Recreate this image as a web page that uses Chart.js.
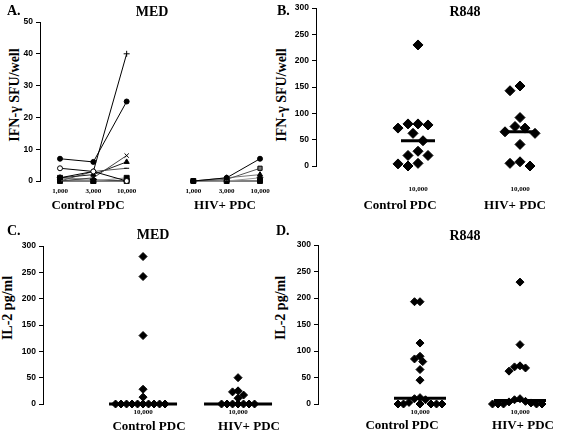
<!DOCTYPE html>
<html lang="en">
<head>
<meta charset="UTF-8">
<title>PDC: IFN-γ en IL-2</title>
<script src="https://cdn.jsdelivr.net/npm/chart.js@4"></script>
<style>
    body { margin: 0; background: #fff; }
    #fig {
        position: relative;
        width: 563px;
        height: 431px;
        overflow: hidden;
        font-family: 'Liberation Serif', 'Times New Roman', serif;
        font-weight: bold;
        color: #000;
    }
    #fig canvas { position: absolute; }
    .txt { position: absolute; white-space: nowrap; transform: translate(-50%, -50%); line-height: 1; }
    .letter { font-size: 14px; transform: translate(0, -50%); }
    .ttl { font-size: 14px; }
    .ytitle { font-size: 14px; transform: translate(-50%, -50%) rotate(-90deg); }
    .grp { font-size: 13px; }
</style>
</head>
<body>
<div id="fig">
    <div class="txt ytitle" style="left:15px; top:95px;">IFN-γ SFU/well</div>
    <div class="txt ytitle" style="left:282px; top:95px;">IFN-γ SFU/well</div>
    <div class="txt ytitle" style="left:8px; top:308px;">IL-2 pg/ml</div>
    <div class="txt ytitle" style="left:281px; top:308px;">IL-2 pg/ml</div>

    <canvas id="chartA"></canvas>
    <canvas id="chartB"></canvas>
    <canvas id="chartC"></canvas>
    <canvas id="chartD"></canvas>

    <div class="txt letter" style="left:7px; top:11px;">A.</div>
    <div class="txt letter" style="left:277px; top:11px;">B.</div>
    <div class="txt letter" style="left:7px; top:231px;">C.</div>
    <div class="txt letter" style="left:276px; top:231px;">D.</div>

    <div class="txt ttl" style="left:152px; top:12px;">MED</div>
    <div class="txt ttl" style="left:465px; top:12px;">R848</div>
    <div class="txt ttl" style="left:153px; top:235px;">MED</div>
    <div class="txt ttl" style="left:465px; top:236px;">R848</div>

    <div class="txt grp" style="left:88px; top:204px;">Control PDC</div>
    <div class="txt grp" style="left:225px; top:204px;">HIV+ PDC</div>
    <div class="txt grp" style="left:400px; top:204px;">Control PDC</div>
    <div class="txt grp" style="left:515px; top:204px;">HIV+ PDC</div>
    <div class="txt grp" style="left:149px; top:425px;">Control PDC</div>
    <div class="txt grp" style="left:249px; top:425px;">HIV+ PDC</div>
    <div class="txt grp" style="left:402px; top:424px;">Control PDC</div>
    <div class="txt grp" style="left:523px; top:424px;">HIV+ PDC</div>
</div>

<script>
    // doses (PDC per well)
    const doseLabels = ['1,000', '3,000', '10,000'];
    const dotDoseLabel = '10,000';

    // A: IFN-γ SFU/well, MED, one line per donor
    const medIfnControl = [
        [7, 6, 25],
        [4, 3, 0],
        [1, 3, 40],
        [0, 1, 8],
        [1, 2, 6],
        [0, 3, 4],
        [1, 0, 1],
        [0, 0, 0],
        [1, 0.5, 0]
    ];
    const medIfnHiv = [
        [0, 1, 7],
        [0, 0.5, 4],
        [0, 1, 2],
        [0, 0, 1],
        [0, 0, 0]
    ];

    // B: IFN-γ SFU/well, R848
    const r848IfnControl = [230, 78, 80, 72, 80, 62, 48, 28, 20, 20, 5, 0, 4];
    const r848IfnHiv = [152, 143, 92, 75, 72, 65, 62, 41, 8, 5, 0];

    // C: IL-2 pg/ml, MED
    const medIl2Control = [280, 242, 130, 28, 13, 0, 0, 0, 0, 0, 0, 0, 0, 0, 0];
    const medIl2Hiv = [50, 25, 23, 17, 11, 0, 0, 0, 0, 0, 0, 0];

    // D: IL-2 pg/ml, R848
    const r848Il2Control = [193, 193, 115, 90, 85, 80, 65, 45, 12, 10, 8, 3, 0, 0, 0, 0, 0, 0];
    const r848Il2Hiv = [230, 112, 72, 70, 68, 62, 10, 8, 5, 4, 2, 0, 0, 0, 0, 0];

    const yTicksIfnMed = [0, 10, 20, 30, 40, 50];
    const yTicks300 = [0, 50, 100, 150, 200, 250, 300];

    // line/marker looks for panel A
    const ctrlStyles = [
        { p: 'circle', bg: '#000', c: '#000', r: 2.5 },
        { p: 'circle', bg: '#fff', c: '#000', r: 2.5 },
        { p: 'cross', bg: '#000', c: '#000', r: 3 },
        { p: 'crossRot', bg: '#000', c: '#444', r: 3 },
        { p: 'triangle', bg: '#000', c: '#222', r: 3 },
        { p: 'line', bg: '#000', c: '#555', r: 2.5 },
        { p: 'rect', bg: '#000', c: '#888', r: 3.5 },
        { p: 'rect', bg: '#000', c: '#000', r: 3.5 },
        { p: 'rectRot', bg: '#000', c: '#888', r: 3 }
    ];
    const hivStyles = [
        { p: 'circle', bg: '#000', c: '#000', r: 2.5 },
        { p: 'rect', bg: '#777', c: '#555', r: 3 },
        { p: 'triangle', bg: '#000', c: '#777', r: 3 },
        { p: 'rectRot', bg: '#000', c: '#999', r: 3 },
        { p: 'rect', bg: '#000', c: '#000', r: 3.5 }
    ];

    Chart.defaults.animation = false;
    Chart.defaults.color = '#000';

    function median(arr) {
        const s = [...arr].sort((a, b) => a - b);
        const m = Math.floor(s.length / 2);
        return s.length % 2 ? s[m] : (s[m - 1] + s[m]) / 2;
    }

    // spread equal values sideways so the diamonds don't sit on top of each other
    function swarm(values, center, pxX, pxY, minDist) {
        const placed = [];
        const out = [];
        [...values].sort((a, b) => b - a).forEach(v => {
            const py = v * pxY;
            for (let k = 0; k < 80; k++) {
                const off = k === 0 ? 0 : Math.ceil(k / 2) * (k % 2 ? -1 : 1) * minDist / 2;
                if (placed.every(p => Math.hypot(p.x - off, p.y - py) >= minDist - 0.01)) {
                    placed.push({ x: off, y: py });
                    out.push({ x: center + off / pxX, y: v });
                    break;
                }
            }
        });
        return out;
    }

    function panelOptions(box, xMin, xMax, xTicks, xLabel, yMax, yTicks, xPad) {
        const a = box.area;
        return {
            responsive: false,
            layout: {
                autoPadding: false,
                padding: { top: a.t - box.top, right: box.left + box.w - a.r, left: 0, bottom: 0 }
            },
            plugins: { legend: { display: false }, tooltip: { enabled: false }, title: { display: false } },
            scales: {
                x: {
                    type: 'linear',
                    min: xMin,
                    max: xMax,
                    border: { display: false },
                    grid: { display: false, drawTicks: false },
                    afterBuildTicks: s => { s.ticks = xTicks.map(v => ({ value: v })); },
                    afterFit: s => { s.height = box.top + box.h - a.b; },
                    ticks: {
                        autoSkip: false,
                        maxRotation: 0,
                        padding: xPad,
                        font: { family: "'Liberation Serif', serif", size: 7, weight: 'bold' },
                        callback: xLabel
                    }
                },
                y: {
                    min: 0,
                    max: yMax,
                    border: { display: true, color: '#000', width: 1 },
                    grid: { drawOnChartArea: false, drawTicks: true, tickLength: 4, color: '#000' },
                    afterBuildTicks: s => { s.ticks = yTicks.map(v => ({ value: v })); },
                    afterFit: s => { s.width = a.l - box.left; },
                    ticks: {
                        padding: 3,
                        font: { family: "'Liberation Sans', Arial, sans-serif", size: 8.5, weight: 'bold' }
                    }
                }
            }
        };
    }

    function placeCanvas(id, box) {
        const cv = document.getElementById(id);
        cv.width = box.w;
        cv.height = box.h;
        cv.style.left = box.left + 'px';
        cv.style.top = box.top + 'px';
        cv.style.width = box.w + 'px';
        cv.style.height = box.h + 'px';
        return cv;
    }

    // panel A: lines per donor
    (function () {
        const box = { left: 0, top: 0, w: 285, h: 215, area: { l: 40, t: 22, r: 280, b: 181 } };
        const cv = placeCanvas('chartA', box);
        const datasets = [];
        const addGroup = (series, styles, start) => {
            series.forEach((vals, i) => {
                const st = styles[i % styles.length];
                datasets.push({
                    data: vals.map((v, j) => ({ x: start + j, y: v })),
                    showLine: true,
                    borderColor: st.c,
                    borderWidth: 1,
                    pointStyle: st.p,
                    pointRadius: st.r,
                    pointBackgroundColor: st.bg,
                    pointBorderColor: '#000',
                    pointBorderWidth: 1,
                    clip: false
                });
            });
        };
        addGroup(medIfnControl, ctrlStyles, 0);
        addGroup(medIfnHiv, hivStyles, 4);
        new Chart(cv, {
            type: 'scatter',
            data: { datasets: datasets },
            options: panelOptions(box, -0.6, 6.6, [0, 1, 2, 4, 5, 6], v => doseLabels[v % 4], 50, yTicksIfnMed, 6)
        });
    })();

    // panels B, C, D: dot plots with median bar
    function dotPanel(id, box, ctrlVals, hivVals, pxPerX, xMin, xMax, minDist, radius, barHalfPx, xPad) {
        const cv = placeCanvas(id, box);
        const pxPerY = (box.area.b - box.area.t) / 300;
        const datasets = [];
        [ctrlVals, hivVals].forEach((vals, g) => {
            datasets.push({
                data: swarm(vals, g, pxPerX, pxPerY, minDist),
                pointStyle: 'rectRot',
                pointRadius: radius,
                pointBackgroundColor: '#000',
                pointBorderColor: '#000',
                pointBorderWidth: 1,
                clip: false
            });
            const med = median(vals);
            const hw = barHalfPx / pxPerX;
            datasets.push({
                data: [{ x: g - hw, y: med }, { x: g + hw, y: med }],
                showLine: true,
                borderColor: '#000',
                borderWidth: 3,
                pointRadius: 0,
                clip: false
            });
        });
        new Chart(cv, {
            type: 'scatter',
            data: { datasets: datasets },
            options: panelOptions(box, xMin, xMax, [0, 1], () => dotDoseLabel, 300, yTicks300, xPad)
        });
    }

    dotPanel('chartB', { left: 285, top: 0, w: 278, h: 215, area: { l: 316, t: 7, r: 560, b: 166 } },
        r848IfnControl, r848IfnHiv, 102, -1.0, 1.392, 10, 5, 17, 19);
    dotPanel('chartC', { left: 0, top: 222, w: 292, h: 209, area: { l: 43, t: 246, r: 290, b: 404 } },
        medIl2Control, medIl2Hiv, 95, -1.053, 1.547, 5.5, 4, 34, 4);
    dotPanel('chartD', { left: 285, top: 222, w: 278, h: 209, area: { l: 318, t: 245, r: 560, b: 404 } },
        r848Il2Control, r848Il2Hiv, 100, -1.02, 1.40, 5.5, 4, 26, 4);
</script>
</body>
</html>
